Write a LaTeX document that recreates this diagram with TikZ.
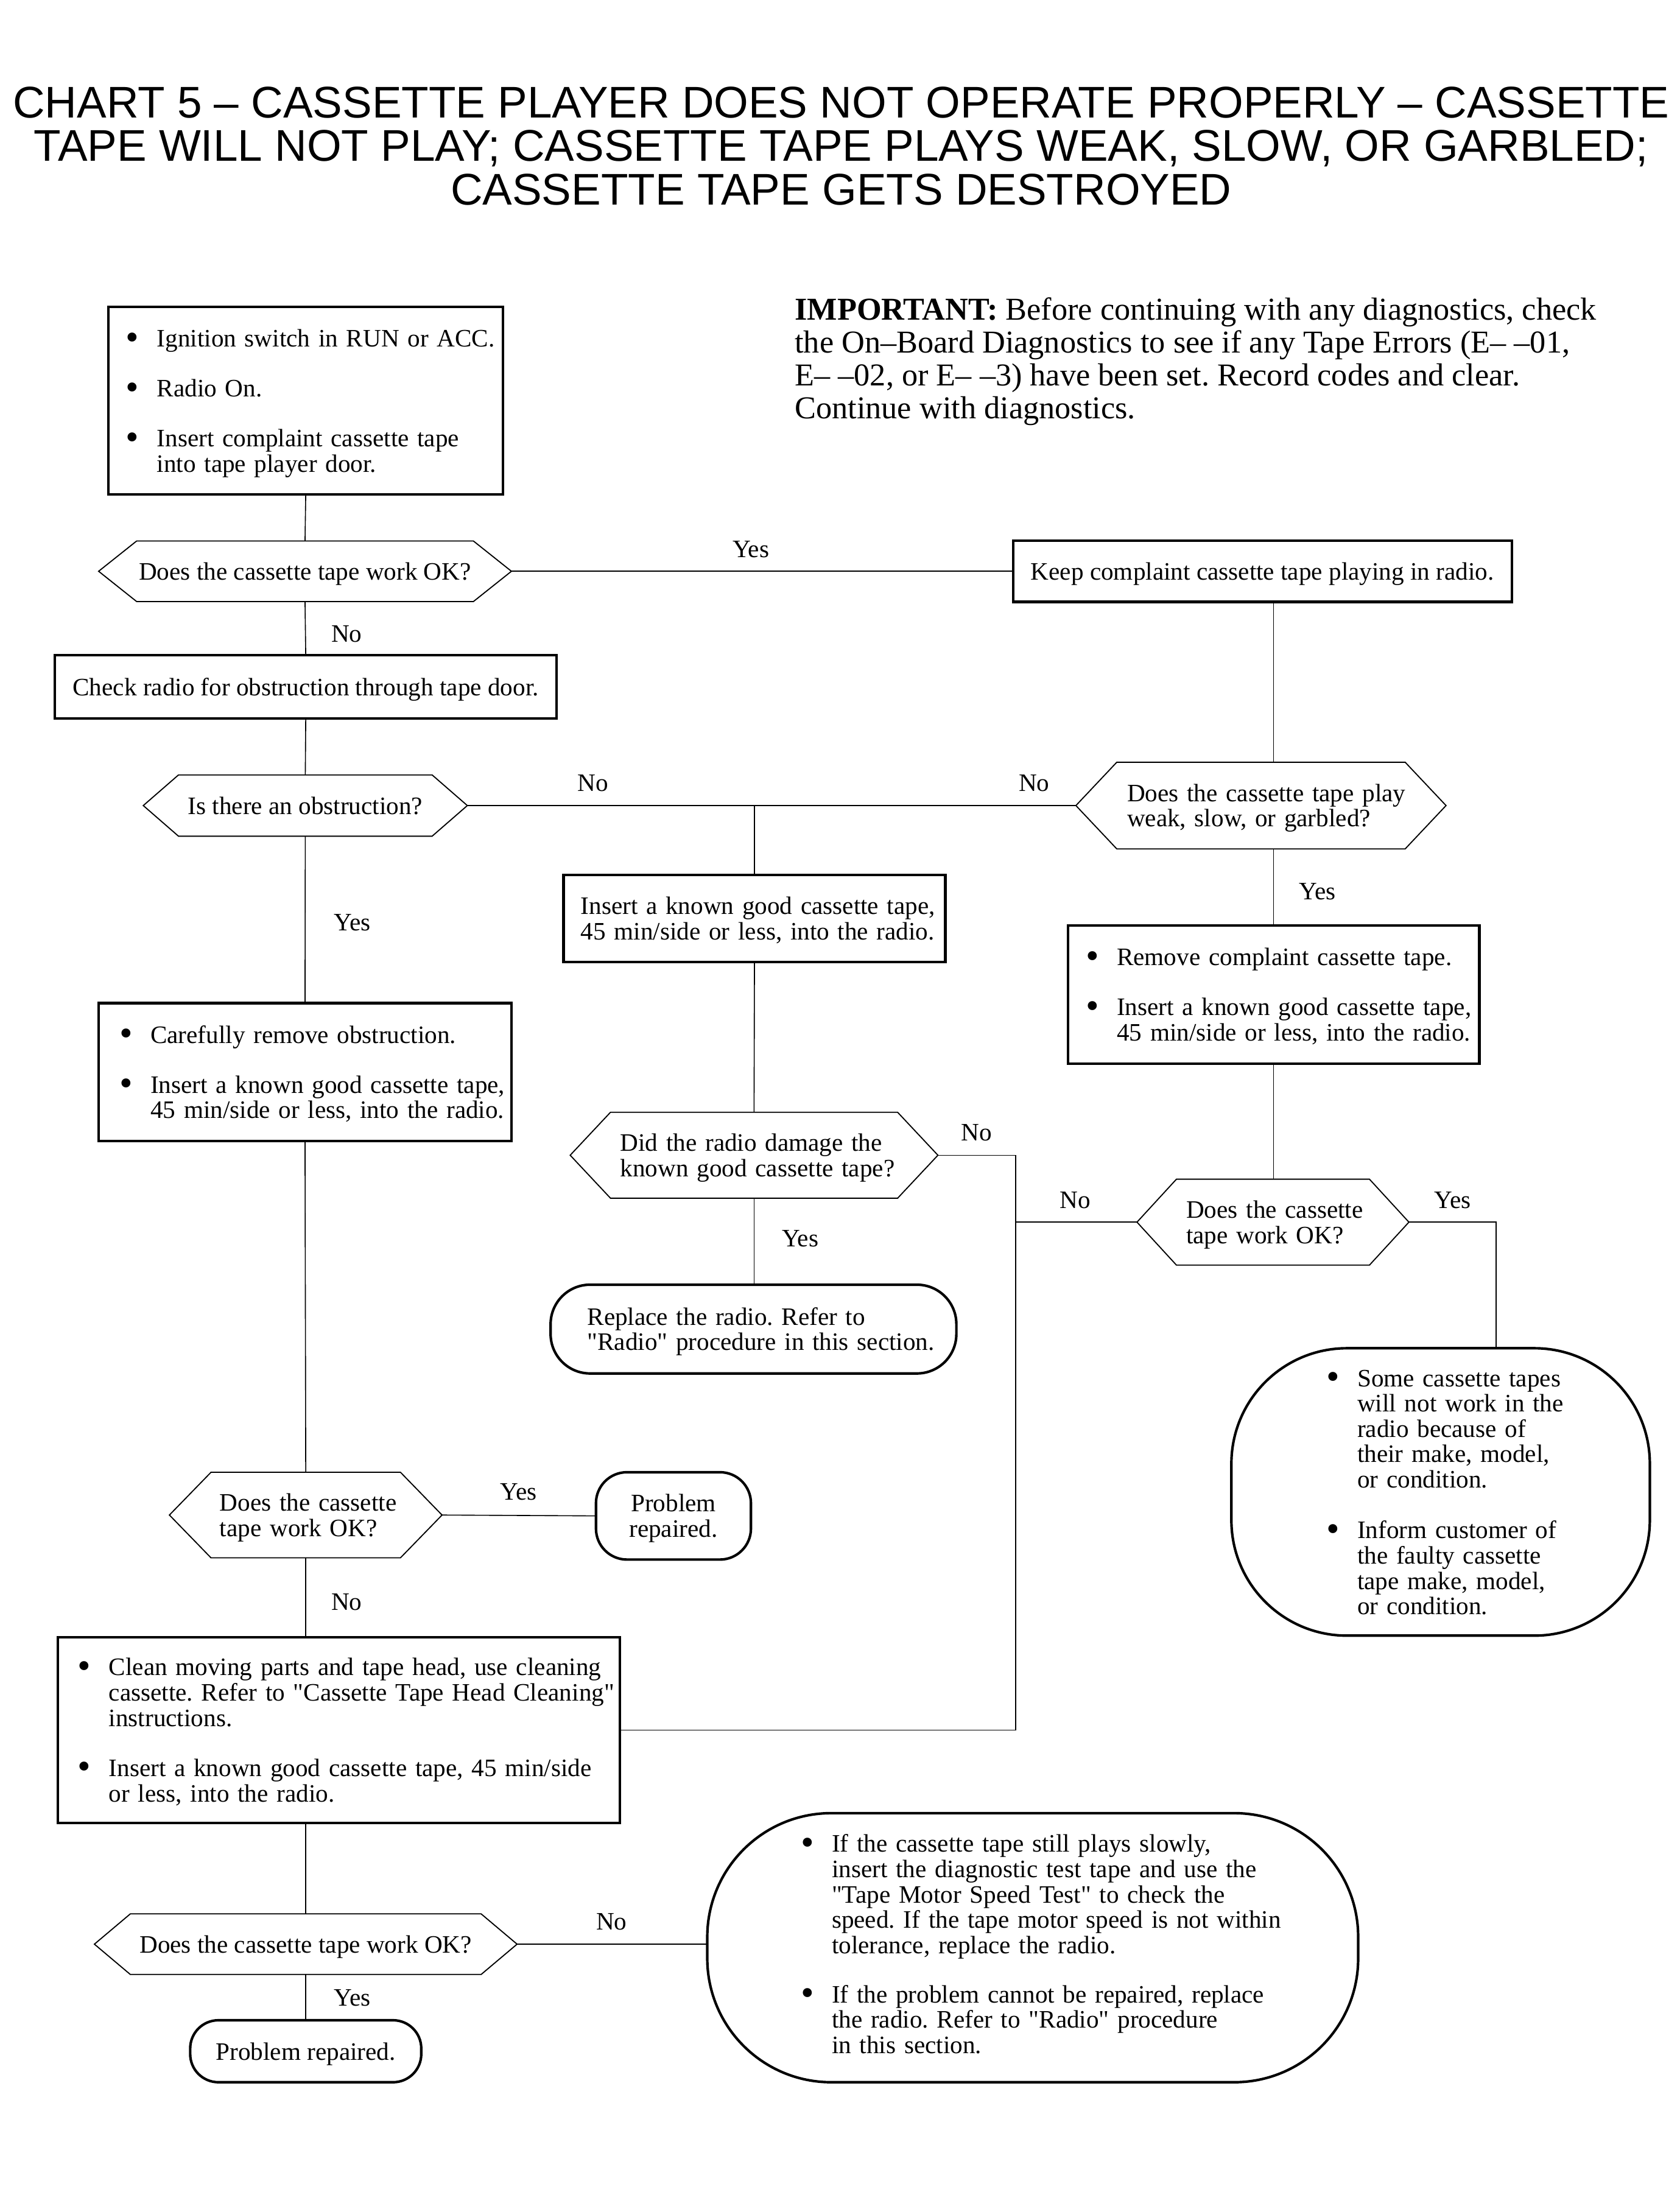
\documentclass[tikz,border=0pt]{standalone}
\usepackage{graphicx}
\usepackage{fontspec}
\setmainfont{Liberation Serif}[Ligatures=TeXOff]
\newfontfamily\titlefont{Liberation Sans}[Ligatures=TeXOff]
\usetikzlibrary{calc}
\frenchspacing
\newcommand{\dn}[1]{\raisebox{0pt}[\dimexpr\height+5pt\relax][\depth]{#1}}
\newcommand{\tl}[1]{\dn{\begin{tabular}{@{}l@{}}#1\end{tabular}}}
\newcommand{\tc}[1]{\dn{\begin{tabular}{@{}c@{}}#1\end{tabular}}}
\newcommand{\tb}[1]{\dn{\begin{tabular}{@{}l@{}l@{}}#1\end{tabular}}}
\newcommand{\tbb}[1]{\begin{tabular}{@{}l@{}l@{}}#1\end{tabular}}
\newcommand{\bl}{\makebox[22pt][l]{\raisebox{-2pt}{\scalebox{1.5}{\textbullet}}}}
\newcommand{\hexo}[2]{\draw[hexline] (#1.west) -- ([xshift=#2]#1.north west) -- ([xshift=-#2]#1.north east) -- (#1.east) -- ([xshift=-#2]#1.south east) -- ([xshift=#2]#1.south west) -- cycle;}
\begin{document}
\begin{tikzpicture}[x=1pt,y=-1pt,
 every node/.style={font=\fontsize{17.8}{18}\selectfont},
 thickbox/.style={draw, line width=1.8pt, inner sep=0pt, outer sep=0pt},
 roundbox/.style={draw, line width=1.8pt, inner sep=0pt, outer sep=0pt},
 hexnode/.style={inner sep=0pt, outer sep=0pt},
 hexline/.style={line width=0.8pt, line join=miter},
 conn/.style={line width=0.7pt},
 lbl/.style={inner sep=0pt},
 ttl/.style={font=\titlefont\fontsize{31.5}{31}\selectfont, anchor=base, inner sep=0pt},
 imp/.style={font=\fontsize{22.6}{23}\selectfont, anchor=base west, inner sep=0pt}]
\fill[white] (0,0) rectangle (1192,1568);
\useasboundingbox (0,0) rectangle (1192,1568);

% title
\node[ttl] (t1) at (597,83.5) {CHART 5 – CASSETTE PLAYER DOES NOT OPERATE PROPERLY – CASSETTE};
\node[ttl] (t2) at (597,114.5) {TAPE WILL NOT PLAY; CASSETTE TAPE PLAYS WEAK, SLOW, OR GARBLED;};
\node[ttl] (t3) at (597,145.5) {CASSETTE TAPE GETS DESTROYED};

% important note
\node[imp] (imp1) at (564,227) {\textbf{IMPORTANT:} Before continuing with any diagnostics, check};
\node[imp] (imp2) at (564,250.5) {the On–Board Diagnostics to see if any Tape Errors (E– –01,};
\node[imp] (imp3) at (564,274) {E– –02, or E– –3) have been set. Record codes and clear.};
\node[imp] (imp4) at (564,297) {Continue with diagnostics.};

% nodes
\node[thickbox, minimum width=280pt, minimum height=133pt, text width=255.2pt, align=left] (start) at (217,284.5)
 {\tb{\bl & Ignition switch in RUN or ACC.\\[17.5pt] \bl & Radio On.\\[17.5pt] \bl & Insert complaint cassette tape\\ & into tape player door.}};

\node[hexnode, minimum width=293pt, minimum height=43pt] (q1) at (216.5,405.5) {\tc{Does the cassette tape work OK?}};
\node[thickbox, minimum width=354pt, minimum height=43.5pt] (keep) at (896,405.5) {\tc{Keep complaint cassette tape playing in radio.}};
\node[thickbox, minimum width=356pt, minimum height=45pt] (check) at (217,487.5) {\tc{Check radio for obstruction through tape door.}};
\node[hexnode, minimum width=230pt, minimum height=43.5pt] (q2) at (216.7,571.8) {\tc{Is there an obstruction?}};
\node[hexnode, minimum width=262.7pt, minimum height=61.5pt, text width=190pt, align=left] (q3) at (895,571.8) {\tl{Does the cassette tape play\\weak, slow, or garbled?}};

\node[thickbox, minimum width=271pt, minimum height=62pt, text width=246.6pt, align=left] (ins) at (535.5,652) {\tl{Insert a known good cassette tape,\\45 min/side or less, into the radio.}};

\node[thickbox, minimum width=292pt, minimum height=98pt, text width=266.6pt, align=left] (rem) at (904,706)
 {\tb{\bl & Remove complaint cassette tape.\\[17.5pt] \bl & Insert a known good cassette tape,\\ & 45 min/side or less, into the radio.}};

\node[thickbox, minimum width=293pt, minimum height=98pt, text width=263.4pt, align=left] (rmob) at (216.5,761)
 {\tb{\bl & Carefully remove obstruction.\\[17.5pt] \bl & Insert a known good cassette tape,\\ & 45 min/side or less, into the radio.}};

\node[hexnode, minimum width=261pt, minimum height=61pt, text width=189.8pt, align=left] (q4) at (535.2,820) {\tl{Did the radio damage the\\known good cassette tape?}};
\node[hexnode, minimum width=193pt, minimum height=61pt, text width=123pt, align=left] (q5) at (903.5,867.5) {\tl{Does the cassette\\tape work OK?}};

\node[roundbox, rounded corners=28pt, minimum width=288pt, minimum height=63pt, text width=235.8pt, align=left] (repl) at (534.8,943.4) {\tl{Replace the radio. Refer to\\"Radio" procedure in this section.}};

\node[roundbox, rounded corners=82pt, minimum width=297pt, minimum height=204pt, text width=162.2pt, align=left] (some) at (1022.5,1059)
 {\tb{\bl & Some cassette tapes\\ & will not work in the\\ & radio because of\\ & their make, model,\\ & or condition.\\[18pt] \bl & Inform customer of\\ & the faulty cassette\\ & tape make, model,\\ & or condition.}};

\node[hexnode, minimum width=193.5pt, minimum height=60.7pt, text width=122pt, align=left] (q6) at (217,1075.4) {\tl{Does the cassette\\tape work OK?}};
\node[roundbox, rounded corners=22pt, minimum width=110pt, minimum height=62pt] (ok1) at (478,1076) {\tc{Problem\\repaired.}};

\node[thickbox, minimum width=399pt, minimum height=132pt, text width=370.4pt, align=left] (clean) at (240.5,1228)
 {\tb{\bl & Clean moving parts and tape head, use cleaning\\ & cassette. Refer to "Cassette Tape Head Cleaning"\\ & instructions.\\[17.5pt] \bl & Insert a known good cassette tape, 45 min/side\\ & or less, into the radio.}};

\node[hexnode, minimum width=300pt, minimum height=43pt] (q7) at (217,1380) {\tc{Does the cassette tape work OK?}};

\node[roundbox, rounded corners=88pt, minimum width=462pt, minimum height=191pt, text width=329.2pt, align=left] (big) at (733,1382.5)
 {\tbb{\bl & If the cassette tape still plays slowly,\\ & insert the diagnostic test tape and use the\\ & "Tape Motor Speed Test" to check the\\ & speed. If the tape motor speed is not within\\ & tolerance, replace the radio.\\[17pt] \bl & If the problem cannot be repaired, replace\\ & the radio. Refer to "Radio" procedure\\ & in this section.}};

\node[roundbox, rounded corners=20pt, minimum width=164pt, minimum height=44pt] (ok2) at (217,1456) {\tc{Problem repaired.}};

% hexagon outlines
\hexo{q1}{27pt}
\hexo{q2}{25pt}
\hexo{q3}{29pt}
\hexo{q4}{28.6pt}
\hexo{q5}{28pt}
\hexo{q6}{29.5pt}
\hexo{q7}{25.5pt}

% connectors
\coordinate (vx) at (721,0);
\coordinate (vy) at (1062,0);
\coordinate (j1) at (ins.north |- q2.east);
\draw[conn] (start.south) -- (q1.north);
\draw[conn] (q1.east) -- (keep.west);
\draw[conn] (q1.south) -- (check.north);
\draw[conn] (check.south) -- (q2.north);
\draw[conn] (q2.east) -- (q3.west);
\draw[conn] (j1) -- (ins.north);
\draw[conn] (keep.south -| rem.north) -- (q3.north -| rem.north);
\draw[conn] (q3.south -| rem.north) -- (rem.north);
\draw[conn] (rem.south) -- (rem.south |- q5.north);
\draw[conn] (ins.south) -- (q4.north);
\draw[conn] (q4.south) -- (q4.south |- repl.north);
\draw[conn] (q4.east) -- (q4.east -| vx) -- (clean.east -| vx) -- (clean.east);
\draw[conn] (q5.west) -- (q5.west -| vx);
\draw[conn] (q5.east) -- (q5.east -| vy) -- (some.north -| vy);
\draw[conn] (q2.south) -- (rmob.north);
\draw[conn] (rmob.south) -- (q6.north);
\draw[conn] (q6.east) -- (ok1.west);
\draw[conn] (q6.south) -- (q6.south |- clean.north);
\draw[conn] (q6.south |- clean.south) -- (q7.north);
\draw[conn] (q7.east) -- (q7.east -| big.west);
\draw[conn] (q7.south) -- (ok2.north);

% labels
\node[lbl] (l1) at (533,390) {Yes};
\node[lbl] (l2) at (246,450) {No};
\node[lbl] (l3) at (421,556) {No};
\node[lbl] (l4) at (734,556) {No};
\node[lbl] (l5) at (250,655) {Yes};
\node[lbl] (l6) at (935,633) {Yes};
\node[lbl] (l7) at (693,804) {No};
\node[lbl] (l8) at (763,852) {No};
\node[lbl] (l9) at (1031,852) {Yes};
\node[lbl] (l10) at (568,879) {Yes};
\node[lbl] (l11) at (368,1059) {Yes};
\node[lbl] (l12) at (246,1137) {No};
\node[lbl] (l13) at (434,1364) {No};
\node[lbl] (l14) at (250,1418) {Yes};
\end{tikzpicture}
\end{document}
